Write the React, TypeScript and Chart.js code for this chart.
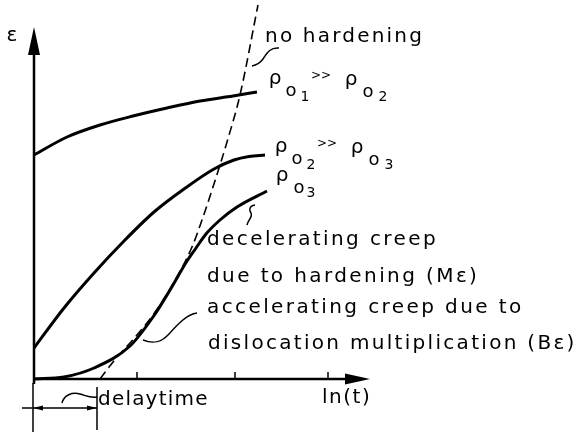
import { useEffect, useRef } from 'react';
import { Chart, registerables } from 'chart.js';

Chart.register(...registerables);

// Creep strain ε against ln(t) for three initial dislocation densities ρo1 >> ρo2 >> ρo3
const lnTimeRho1 = [0, 0.33, 0.66, 0.99, 1.33, 1.66, 1.99, 2.23];
const strainRho1 = [2.24, 2.42, 2.54, 2.63, 2.71, 2.78, 2.83, 2.87];

const lnTimeRho2 = [0, 0.3, 0.6, 0.9, 1.2, 1.5, 1.8, 2.0, 2.15, 2.31];
const strainRho2 = [0.31, 0.71, 1.06, 1.38, 1.67, 1.9, 2.1, 2.19, 2.225, 2.24];

const lnTimeRho3 = [0, 0.3, 0.6, 0.96, 1.19, 1.36, 1.53, 1.62, 1.72, 1.86, 2.03, 2.33];
const strainRho3 = [0, 0.02, 0.11, 0.33, 0.62, 0.89, 1.18, 1.31, 1.45, 1.59, 1.72, 1.88];

// Curve without hardening (dashed)
const lnTimeNoHard = [0.66, 0.83, 0.96, 1.19, 1.36, 1.58, 1.68, 1.86, 1.93, 2.06, 2.24];
const strainNoHard = [0, 0.22, 0.36, 0.64, 0.9, 1.32, 1.59, 2.14, 2.37, 2.84, 3.74];

// Tick marks on the ln(t) axis and the delay time
const axisTicks = [1.03, 2.01, 2.94];
const delayTime = 0.63;

// Axis extents (arrow tips)
const xAxisEnd = 3.36;
const yAxisEnd = 3.52;

const toPoints = (xs: number[], ys: number[]) => xs.map((x, i) => ({ x, y: ys[i] }));

const FONT = '"DejaVu Sans", sans-serif';

type Label = { text: string; x: number; y: number; size: number; spacing: number; align?: CanvasTextAlign };

const labels: Label[] = [
  { text: 'ε', x: -0.22, y: 3.43, size: 20, spacing: 0, align: 'center' },
  { text: 'no hardening', x: 2.31, y: 3.42, size: 20, spacing: 2.2 },
  { text: 'decelerating creep', x: 1.73, y: 1.39, size: 20, spacing: 2.4 },
  { text: 'due to hardening (Mε)', x: 1.73, y: 1.02, size: 20, spacing: 2.4 },
  { text: 'accelerating creep due to', x: 1.73, y: 0.71, size: 20, spacing: 2.4 },
  { text: 'dislocation multiplication (Bε)', x: 1.74, y: 0.35, size: 20, spacing: 2.3 },
  { text: 'ln(t)', x: 2.88, y: -0.19, size: 20, spacing: 1.5 },
  { text: 'delaytime', x: 0.64, y: -0.21, size: 20, spacing: 1.2 },
];

// ρ labels with subscripts: anchor in data units, pieces offset in px
type Piece = { t: string; dx: number; dy: number; size: number };
const rhoPair = (a: string, b: string): Piece[] => [
  { t: 'ρ', dx: 0, dy: 0, size: 20 },
  { t: 'o', dx: 16, dy: 12, size: 18 },
  { t: a, dx: 30, dy: 18, size: 14 },
  { t: '>>', dx: 46, dy: -3, size: 12 },
  { t: 'ρ', dx: 76, dy: 1, size: 20 },
  { t: 'o', dx: 93, dy: 13, size: 18 },
  { t: b, dx: 108, dy: 18, size: 14 },
];
const rhoLabels = [
  { x: 2.41, y: 3.0, pieces: rhoPair('1', '2') },
  { x: 2.47, y: 2.32, pieces: rhoPair('2', '3') },
  {
    x: 2.48,
    y: 2.03,
    pieces: [
      { t: 'ρ', dx: 0, dy: 0, size: 20 },
      { t: 'o', dx: 17, dy: 12, size: 18 },
      { t: '3', dx: 29, dy: 17, size: 14 },
    ] as Piece[],
  },
];

// Wavy leader lines: anchor in data units, bezier offsets in px
const leaders = [
  { x: 2.45, y: 3.31, segs: [[-10, -1, -13, 7, -16, 11], [-19, 15, -22, 17, -27, 18]] },
  { x: 2.21, y: 1.74, segs: [[-6, 1, -6, 5, -4, 8], [-2, 12, -7, 15, -8, 20]] },
  { x: 1.09, y: 0.39, segs: [[10, 4, 18, 3, 26, -6], [34, -15, 44, -26, 54, -27]] },
  { x: 0.28, y: -0.24, segs: [[2, -8, 10, -11, 18, -9], [25, -7, 28, -5, 35, -6]] },
];

const decorPlugin = {
  id: 'decor',
  afterDatasetsDraw(chart: any) {
    const ctx: CanvasRenderingContext2D = chart.ctx;
    const sx = chart.scales.x;
    const sy = chart.scales.y;
    const X = (v: number) => sx.getPixelForValue(v);
    const Y = (v: number) => sy.getPixelForValue(v);
    const x0 = X(0);
    const y0 = Y(0);
    ctx.save();
    ctx.strokeStyle = '#000';
    ctx.fillStyle = '#000';
    ctx.lineCap = 'butt';

    // axes
    ctx.lineWidth = 2.5;
    ctx.beginPath();
    ctx.moveTo(x0, y0 + 5);
    ctx.lineTo(x0, Y(yAxisEnd) + 20);
    ctx.moveTo(x0 - 1, y0);
    ctx.lineTo(X(xAxisEnd) - 18, y0);
    ctx.stroke();
    // arrowheads
    const ty = Y(yAxisEnd);
    ctx.beginPath();
    ctx.moveTo(x0, ty);
    ctx.lineTo(x0 - 6, ty + 28);
    ctx.lineTo(x0 + 6, ty + 28);
    ctx.closePath();
    ctx.fill();
    const tx = X(xAxisEnd);
    ctx.beginPath();
    ctx.moveTo(tx, y0);
    ctx.lineTo(tx - 25, y0 - 5.5);
    ctx.lineTo(tx - 25, y0 + 5.5);
    ctx.closePath();
    ctx.fill();

    // ticks
    ctx.lineWidth = 1.5;
    ctx.beginPath();
    axisTicks.forEach((t) => {
      ctx.moveTo(X(t), y0);
      ctx.lineTo(X(t), y0 - 7);
    });
    ctx.stroke();

    // delay-time bracket
    const xd = X(delayTime);
    ctx.lineWidth = 1.5;
    ctx.beginPath();
    ctx.moveTo(x0 - 1, y0 + 4);
    ctx.lineTo(x0 - 1, y0 + 53);
    ctx.moveTo(xd, y0 + 8);
    ctx.lineTo(xd, y0 + 51);
    ctx.moveTo(x0 - 12, y0 + 29);
    ctx.lineTo(xd, y0 + 29);
    ctx.stroke();
    ctx.beginPath();
    ctx.moveTo(x0 - 1, y0 + 29);
    ctx.lineTo(x0 + 9, y0 + 26.5);
    ctx.lineTo(x0 + 9, y0 + 31.5);
    ctx.closePath();
    ctx.moveTo(xd, y0 + 29);
    ctx.lineTo(xd - 10, y0 + 26.5);
    ctx.lineTo(xd - 10, y0 + 31.5);
    ctx.closePath();
    ctx.fill();

    // leaders
    ctx.lineWidth = 1.5;
    leaders.forEach((l) => {
      const ax = X(l.x);
      const ay = Y(l.y);
      ctx.beginPath();
      ctx.moveTo(ax, ay);
      l.segs.forEach((s) => ctx.bezierCurveTo(ax + s[0], ay + s[1], ax + s[2], ay + s[3], ax + s[4], ay + s[5]));
      ctx.stroke();
    });

    // labels
    ctx.textBaseline = 'middle';
    labels.forEach((l) => {
      ctx.font = `${l.size}px ${FONT}`;
      (ctx as any).letterSpacing = `${l.spacing}px`;
      ctx.textAlign = l.align ?? 'left';
      ctx.fillText(l.text, X(l.x), Y(l.y));
    });
    (ctx as any).letterSpacing = '0px';
    ctx.textAlign = 'center';
    rhoLabels.forEach((g) => {
      const ax = X(g.x);
      const ay = Y(g.y);
      g.pieces.forEach((p) => {
        ctx.font = `${p.size}px ${FONT}`;
        ctx.fillText(p.t, ax + p.dx, ay + p.dy);
      });
    });
    ctx.restore();
  },
};

export default function App() {
  const ref = useRef<HTMLCanvasElement | null>(null);

  useEffect(() => {
    document.body.style.margin = '0';
    const canvas = ref.current!;
    const solid = (xs: number[], ys: number[]) => ({
      data: toPoints(xs, ys),
      borderColor: '#000',
      borderWidth: 3,
      pointRadius: 0,
      cubicInterpolationMode: 'monotone' as const,
      fill: false,
      clip: false as any,
    });
    const chart = new Chart(canvas, {
      type: 'line',
      data: {
        datasets: [
          solid(lnTimeRho1, strainRho1),
          solid(lnTimeRho2, strainRho2),
          solid(lnTimeRho3, strainRho3),
          { ...solid(lnTimeNoHard, strainNoHard), borderWidth: 1.6, borderDash: [9, 5] },
        ],
      },
      options: {
        responsive: false,
        animation: false,
        devicePixelRatio: 1,
        layout: { padding: { left: 34, right: 203, top: 0, bottom: 56 } },
        scales: {
          x: { type: 'linear', min: 0, max: 3.4, display: false },
          y: { type: 'linear', min: 0, max: 3.79, display: false },
        },
        plugins: { legend: { display: false }, tooltip: { enabled: false } },
      },
      plugins: [decorPlugin],
    });
    return () => chart.destroy();
  }, []);

  return <canvas ref={ref} width={577} height={435} style={{ display: 'block', background: '#fff' }} />;
}
